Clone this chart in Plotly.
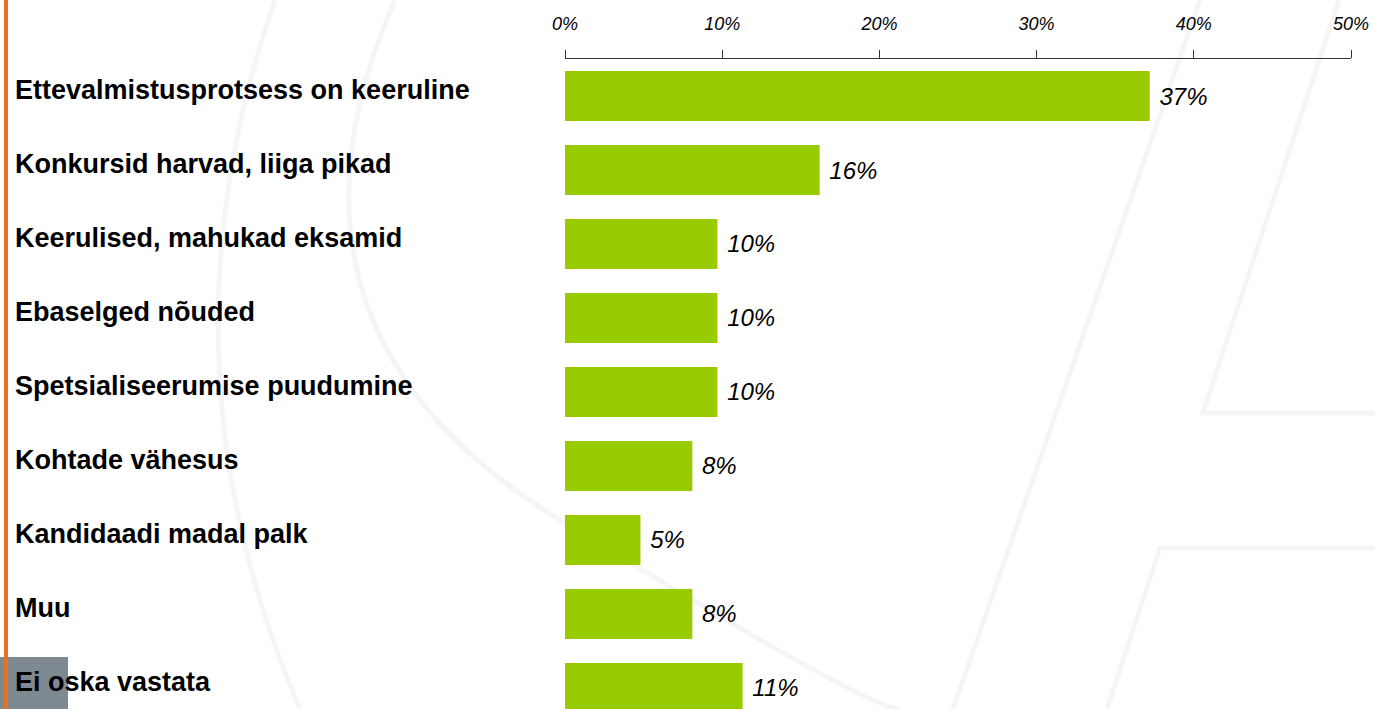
import plotly.graph_objects as go

categories = [
    "Ettevalmistusprotsess on keeruline",
    "Konkursid harvad, liiga pikad",
    "Keerulised, mahukad eksamid",
    "Ebaselged nõuded",
    "Spetsialiseerumise puudumine",
    "Kohtade vähesus",
    "Kandidaadi madal palk",
    "Muu",
    "Ei oska vastata",
]
values = [37.2, 16.2, 9.7, 9.7, 9.7, 8.1, 4.8, 8.1, 11.3]
tick_vals = [0, 10, 20, 30, 40, 50]
tick_text = ["0%", "10%", "20%", "30%", "40%", "50%"]

FONT = "Liberation Sans, Arial, sans-serif"
GREEN = "#99CC00"
ORANGE = "#E8731E"

W, H = 1375, 709
L, R, T, B = 565, 24, 59, 0
pw, ph = W - L - R, H - T - B

fig = go.Figure()
fig.add_trace(go.Bar(
    x=values,
    y=list(range(len(categories))),
    orientation="h",
    width=0.676,
    marker=dict(color=GREEN, line=dict(width=0)),
    texttemplate="\u00a0%{x:.0f}%",
    textposition="outside",
    constraintext="none",
    cliponaxis=False,
    textfont=dict(family=FONT, size=24, color="#000000", style="italic"),
    hoverinfo="skip",
))

# category labels, left aligned
for i, c in enumerate(categories):
    fig.add_annotation(
        text=c, x=(13 - L) / pw, xref="paper", xanchor="left",
        y=i, yref="y", yanchor="middle", yshift=6,
        showarrow=False,
        font=dict(family=FONT, size=27, color="#000000", weight="bold"),
    )

shapes = []
# faint watermark lines
wm = "#F5F5F5"
lw = 5
shapes.append(dict(type="path", layer="below",
                   path="M 1200 0 L 953 709", line=dict(color=wm, width=lw)))
shapes.append(dict(type="path", layer="below",
                   path="M 1339 0 L 1203 413 L 1375 413", line=dict(color=wm, width=lw)))
shapes.append(dict(type="path", layer="below",
                   path="M 1375 548 L 1160 548 L 1107 709", line=dict(color=wm, width=lw)))
shapes.append(dict(type="path", layer="below",
                   path="M 395 0 Q 250 330 560 520 T 900 709", line=dict(color=wm, width=lw)))
shapes.append(dict(type="path", layer="below",
                   path="M 275 0 Q 150 360 300 709", line=dict(color=wm, width=lw)))
# grey box bottom-left
shapes.append(dict(type="rect", layer="below",
                   x0=0, x1=68, y0=657, y1=709, fillcolor="#7E8992", line=dict(width=0)))
# orange vertical line
shapes.append(dict(type="rect", layer="below",
                   x0=4, x1=8, y0=0, y1=709, fillcolor=ORANGE, line=dict(width=0)))


def px2paper(path):
    out = []
    toks = path.split()
    i = 0
    while i < len(toks):
        t = toks[i]
        if t.isalpha():
            out.append(t)
            i += 1
        else:
            xv = (float(toks[i]) - L) / pw
            yv = 1 - (float(toks[i + 1]) - T) / ph
            out.append(f"{xv:.4f} {yv:.4f}")
            i += 2
    return " ".join(out)


final_shapes = []
for s in shapes:
    s = dict(s, xref="paper", yref="paper")
    if s["type"] == "path":
        s["path"] = px2paper(s["path"])
    else:
        s["x0"] = (s["x0"] - L) / pw
        s["x1"] = (s["x1"] - L) / pw
        s["y0"] = 1 - (s["y0"] - T) / ph
        s["y1"] = 1 - (s["y1"] - T) / ph
    final_shapes.append(s)

fig.update_layout(
    width=W, height=H,
    margin=dict(l=L, r=R, t=T, b=B, pad=0),
    paper_bgcolor="#FFFFFF",
    plot_bgcolor="rgba(0,0,0,0)",
    showlegend=False,
    shapes=final_shapes,
    xaxis=dict(
        side="top", range=[0, 50], tickvals=tick_vals, ticktext=tick_text,
        showgrid=False, zeroline=False,
        showline=True, linecolor="#333333", linewidth=1,
        ticks="outside", ticklen=8, tickcolor="#333333", tickwidth=1,
        ticklabelstandoff=13,
        tickfont=dict(family=FONT, size=18, color="#000000", style="italic"),
        fixedrange=True,
    ),
    yaxis=dict(
        range=[8.284, -0.5], showticklabels=False, showgrid=False,
        zeroline=False, showline=False, ticks="", fixedrange=True,
    ),
)

fig.write_html(
    "out.html",
    config={"displayModeBar": False},
    post_script="document.body.style.margin='0';document.body.style.overflow='hidden';",
)
